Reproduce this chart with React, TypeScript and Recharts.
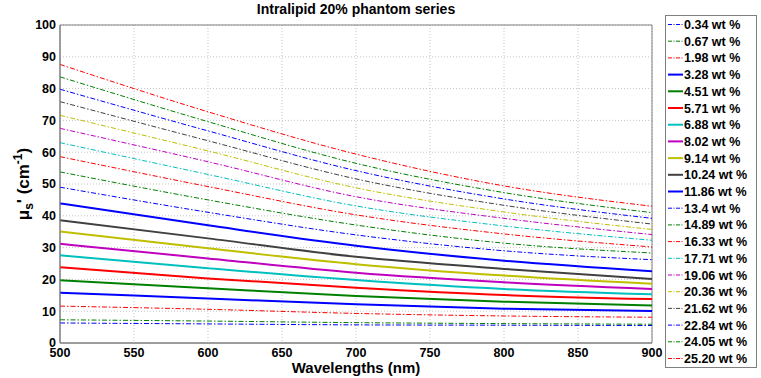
import React from 'react'
import { LineChart, Line, XAxis, YAxis, CartesianGrid, Legend, ReferenceArea, Label } from 'recharts'

const wavelengths = [500, 600, 700, 800, 900]
const xTicks = [500, 550, 600, 650, 700, 750, 800, 850, 900]
const yTicks = [0, 10, 20, 30, 40, 50, 60, 70, 80, 90, 100]

// mus' (cm-1) at each wavelength, per concentration (wt %)
const mus_0_34 = [6.3, 6.0, 5.7, 5.6, 5.5]
const mus_0_67 = [7.3, 6.9, 6.4, 6.1, 5.9]
const mus_1_98 = [11.6, 10.6, 9.3, 8.5, 8.1]
const mus_3_28 = [15.8, 14.0, 12.2, 10.8, 10.1]
const mus_4_51 = [19.7, 17.2, 14.8, 13.0, 11.8]
const mus_5_71 = [23.8, 20.3, 17.4, 15.1, 13.8]
const mus_6_88 = [27.6, 23.5, 19.8, 17.0, 15.3]
const mus_8_02 = [31.2, 26.6, 22.1, 19.1, 17.0]
const mus_9_14 = [35.1, 29.8, 24.8, 21.2, 18.6]
const mus_10_24 = [38.6, 32.9, 27.1, 23.3, 20.1]
const mus_11_86 = [43.9, 37.0, 30.6, 25.9, 22.6]
const mus_13_4 = [49.0, 41.1, 34.0, 29.0, 26.2]
const mus_14_89 = [53.8, 45.0, 37.1, 31.4, 28.3]
const mus_16_33 = [58.6, 49.2, 40.3, 34.3, 30.2]
const mus_17_71 = [63.0, 53.0, 43.1, 36.8, 32.3]
const mus_19_06 = [67.5, 57.0, 46.0, 39.2, 34.1]
const mus_20_36 = [71.6, 60.4, 48.8, 41.2, 35.7]
const mus_21_62 = [75.9, 63.6, 51.6, 43.3, 37.4]
const mus_22_84 = [79.8, 66.7, 54.2, 45.3, 39.2]
const mus_24_05 = [83.7, 69.6, 56.5, 47.3, 41.0]
const mus_25_20 = [87.6, 72.7, 59.4, 49.4, 43.0]

const B = '#0000ff'
const G = '#008000'
const R = '#ff0000'
const C = '#00bfbf'
const M = '#bf00bf'
const Y = '#bfbf00'
const K = '#404040'

const series = [
  { key: 's0', name: '0.34 wt %', color: B, dash: true, values: mus_0_34 },
  { key: 's1', name: '0.67 wt %', color: G, dash: true, values: mus_0_67 },
  { key: 's2', name: '1.98 wt %', color: R, dash: true, values: mus_1_98 },
  { key: 's3', name: '3.28 wt %', color: B, dash: false, values: mus_3_28 },
  { key: 's4', name: '4.51 wt %', color: G, dash: false, values: mus_4_51 },
  { key: 's5', name: '5.71 wt %', color: R, dash: false, values: mus_5_71 },
  { key: 's6', name: '6.88 wt %', color: C, dash: false, values: mus_6_88 },
  { key: 's7', name: '8.02 wt %', color: M, dash: false, values: mus_8_02 },
  { key: 's8', name: '9.14 wt %', color: Y, dash: false, values: mus_9_14 },
  { key: 's9', name: '10.24 wt %', color: K, dash: false, values: mus_10_24 },
  { key: 's10', name: '11.86 wt %', color: B, dash: false, values: mus_11_86 },
  { key: 's11', name: '13.4 wt %', color: B, dash: true, values: mus_13_4 },
  { key: 's12', name: '14.89 wt %', color: G, dash: true, values: mus_14_89 },
  { key: 's13', name: '16.33 wt %', color: R, dash: true, values: mus_16_33 },
  { key: 's14', name: '17.71 wt %', color: C, dash: true, values: mus_17_71 },
  { key: 's15', name: '19.06 wt %', color: M, dash: true, values: mus_19_06 },
  { key: 's16', name: '20.36 wt %', color: Y, dash: true, values: mus_20_36 },
  { key: 's17', name: '21.62 wt %', color: K, dash: true, values: mus_21_62 },
  { key: 's18', name: '22.84 wt %', color: B, dash: true, values: mus_22_84 },
  { key: 's19', name: '24.05 wt %', color: G, dash: true, values: mus_24_05 },
  { key: 's20', name: '25.20 wt %', color: R, dash: true, values: mus_25_20 },
]

const data = wavelengths.map((w, i) => {
  const row: Record<string, number> = { w }
  series.forEach((s) => (row[s.key] = s.values[i]))
  return row
})

const FONT = '"Liberation Sans", Arial, Helvetica, sans-serif'
const DASH = '5 2 1.5 2'

const YLabel = ({ viewBox }: any) => {
  const x = 29
  const y = viewBox.y + viewBox.height / 2
  return (
    <text x={x} y={y} transform={`rotate(-90 ${x} ${y})`} textAnchor="middle" fontFamily={FONT} fontWeight="bold" fontSize={17} fill="#000">
      μ<tspan fontSize={12} dy={4}>s</tspan>
      <tspan dy={-4}>' (cm</tspan>
      <tspan fontSize={12} dy={-7}>-1</tspan>
      <tspan dy={7}>)</tspan>
    </text>
  )
}

const LegendBox = () => (
  <svg width={92} height={353} style={{ display: 'block' }}>
    <rect x={0.5} y={0.5} width={91} height={352} fill="#fff" stroke="#808080" />
    {series.map((s, i) => {
      const cy = 9.5 + i * 16.7
      return (
        <g key={s.key}>
          <line x1={3} x2={18} y1={cy} y2={cy} stroke={s.color} strokeWidth={s.dash ? 1 : 2} strokeDasharray={s.dash ? '4 1.5 1 1.5' : undefined} />
          <text x={19} y={cy + 4.5} fontFamily={FONT} fontWeight="bold" fontSize={12.5} fill="#000">
            {s.name}
          </text>
        </g>
      )
    })}
  </svg>
)

export default function App() {
  return (
    <div style={{ position: 'absolute', left: 0, top: 0, width: 761, height: 378, background: '#fff' }}>
      <LineChart width={761} height={378} data={data} margin={{ top: 25, right: 109, bottom: 0, left: 0 }}>
        <text x={356} y={14} textAnchor="middle" fontFamily={FONT} fontWeight="bold" fontSize={14} fill="#000">
          Intralipid 20% phantom series
        </text>
        <CartesianGrid stroke="#c4c4c4" strokeDasharray="1 2" vertical horizontal />
        <XAxis
          dataKey="w"
          type="number"
          domain={[500, 900]}
          ticks={xTicks}
          height={35}
          tickLine={false}
          tickSize={4}
          tickMargin={1}
          axisLine={{ stroke: '#808080' }}
          tick={{ fontSize: 12.5, fontWeight: 'bold', fill: '#000', fontFamily: FONT }}
        >
          <Label value="Wavelengths (nm)" position="insideBottom" offset={5} style={{ fontSize: 15, fontWeight: 'bold', fill: '#000', fontFamily: FONT }} />
        </XAxis>
        <YAxis
          type="number"
          domain={[0, 100]}
          ticks={yTicks}
          width={60}
          tickLine={false}
          tickSize={2}
          tickMargin={2}
          axisLine={{ stroke: '#808080' }}
          tick={{ fontSize: 12.5, fontWeight: 'bold', fill: '#000', fontFamily: FONT }}
        >
          <Label content={<YLabel />} />
        </YAxis>
        <ReferenceArea x1={500} x2={900} y1={0} y2={100} fill="none" fillOpacity={0} stroke="#808080" strokeWidth={1} />
        {series.map((s) => (
          <Line
            key={s.key}
            dataKey={s.key}
            name={s.name}
            type="monotone"
            stroke={s.color}
            strokeWidth={s.dash ? 1 : 2}
            strokeDasharray={s.dash ? DASH : undefined}
            dot={false}
            activeDot={false}
            isAnimationActive={false}
          />
        ))}
        <Legend
          layout="vertical"
          align="center"
          verticalAlign="middle"
          content={<LegendBox />}
          wrapperStyle={{ left: 665, top: 15, width: 92, height: 353 }}
        />
      </LineChart>
    </div>
  )
}
